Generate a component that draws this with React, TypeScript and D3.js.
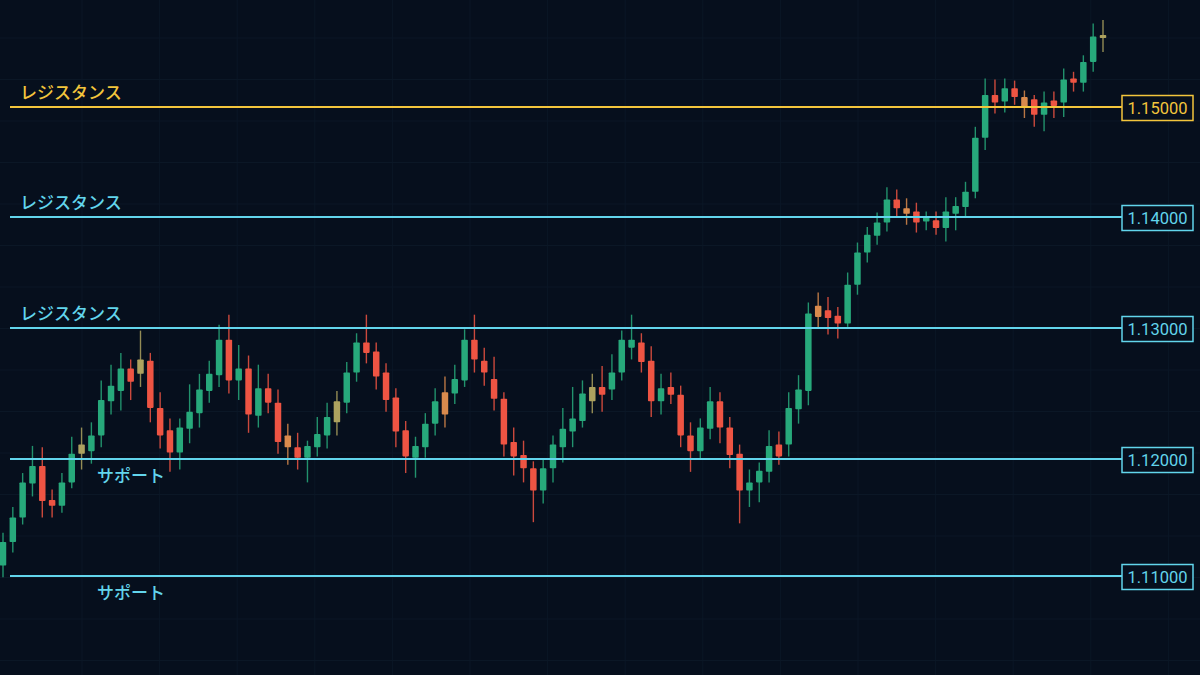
import React from "react";
import * as d3 from "d3";

// OHLC, one entry per candle (left to right)
const opens = [
  1.1109, 1.1129, 1.1150, 1.1179, 1.1194, 1.1165, 1.1160, 1.1180, 1.1204, 1.1206,
  1.1218, 1.1244, 1.1252, 1.1269, 1.1265, 1.1275, 1.1239, 1.1222, 1.1205, 1.1223,
  1.1235, 1.1252, 1.1264, 1.1291, 1.1260, 1.1269, 1.1233, 1.1254, 1.1243, 1.1218,
  1.1209, 1.1201, 1.1209, 1.1218, 1.1228, 1.1243, 1.1266, 1.1289, 1.1282, 1.1266,
  1.1247, 1.1222, 1.1201, 1.1209, 1.1227, 1.1251, 1.1250, 1.1260, 1.1291, 1.1275,
  1.1261, 1.1246, 1.1213, 1.1203, 1.1192, 1.1173, 1.1192, 1.1209, 1.1221, 1.1229,
  1.1244, 1.1255, 1.1253, 1.1266, 1.1285, 1.1289, 1.1275, 1.1244, 1.1255, 1.1249,
  1.1218, 1.1206, 1.1223, 1.1244, 1.1224, 1.1204, 1.1173, 1.1180, 1.1189, 1.1211,
  1.1211, 1.1238, 1.1252, 1.1320, 1.1316, 1.1311, 1.1304, 1.1339, 1.1368, 1.1383,
  1.1395, 1.1416, 1.1408, 1.1405, 1.1396, 1.1397, 1.1390, 1.1403, 1.1409, 1.1423,
  1.1472, 1.1511, 1.1505, 1.1517, 1.1509, 1.1507, 1.1493, 1.1506, 1.1504, 1.1526,
  1.1522, 1.1541, 1.1563,
];
const highs = [
  1.1137, 1.1159, 1.1188, 1.1210, 1.1209, 1.1174, 1.1188, 1.1217, 1.1224, 1.1228,
  1.1260, 1.1272, 1.1281, 1.1276, 1.1298, 1.1281, 1.1251, 1.1231, 1.1231, 1.1257,
  1.1265, 1.1275, 1.1303, 1.1312, 1.1287, 1.1279, 1.1272, 1.1265, 1.1253, 1.1227,
  1.1220, 1.1214, 1.1232, 1.1243, 1.1252, 1.1274, 1.1296, 1.1312, 1.1289, 1.1273,
  1.1254, 1.1229, 1.1217, 1.1235, 1.1254, 1.1263, 1.1272, 1.1299, 1.1312, 1.1285,
  1.1278, 1.1251, 1.1224, 1.1214, 1.1198, 1.1200, 1.1218, 1.1239, 1.1255, 1.1260,
  1.1265, 1.1271, 1.1280, 1.1298, 1.1312, 1.1296, 1.1286, 1.1265, 1.1266, 1.1256,
  1.1228, 1.1231, 1.1255, 1.1251, 1.1232, 1.1211, 1.1191, 1.1197, 1.1222, 1.1221,
  1.1251, 1.1264, 1.1323, 1.1332, 1.1328, 1.1319, 1.1350, 1.1377, 1.1391, 1.1404,
  1.1427, 1.1425, 1.1417, 1.1413, 1.1405, 1.1405, 1.1418, 1.1418, 1.1432, 1.1482,
  1.1526, 1.1525, 1.1526, 1.1524, 1.1515, 1.1511, 1.1514, 1.1514, 1.1535, 1.1532,
  1.1547, 1.1576, 1.1579,
];
const lows = [
  1.1099, 1.1120, 1.1144, 1.1168, 1.1150, 1.1150, 1.1154, 1.1175, 1.1191, 1.1196,
  1.1209, 1.1234, 1.1237, 1.1245, 1.1255, 1.1228, 1.1208, 1.1189, 1.1191, 1.1212,
  1.1224, 1.1243, 1.1255, 1.1250, 1.1245, 1.1220, 1.1224, 1.1235, 1.1204, 1.1195,
  1.1191, 1.1180, 1.1202, 1.1208, 1.1218, 1.1235, 1.1259, 1.1273, 1.1253, 1.1236,
  1.1209, 1.1188, 1.1184, 1.1201, 1.1218, 1.1224, 1.1242, 1.1255, 1.1266, 1.1256,
  1.1237, 1.1202, 1.1186, 1.1180, 1.1146, 1.1162, 1.1180, 1.1197, 1.1209, 1.1224,
  1.1235, 1.1236, 1.1245, 1.1260, 1.1276, 1.1266, 1.1232, 1.1234, 1.1242, 1.1209,
  1.1189, 1.1200, 1.1215, 1.1212, 1.1192, 1.1145, 1.1159, 1.1163, 1.1180, 1.1195,
  1.1202, 1.1227, 1.1241, 1.1301, 1.1295, 1.1292, 1.1301, 1.1330, 1.1359, 1.1375,
  1.1387, 1.1400, 1.1393, 1.1386, 1.1388, 1.1384, 1.1378, 1.1388, 1.1400, 1.1417,
  1.1461, 1.1494, 1.1495, 1.1502, 1.1490, 1.1482, 1.1478, 1.1490, 1.1491, 1.1514,
  1.1514, 1.1532, 1.1550,
];
const closes = [
  1.1129, 1.1150, 1.1180, 1.1194, 1.1164, 1.1160, 1.1180, 1.1204, 1.1211, 1.1218,
  1.1245, 1.1256, 1.1269, 1.1259, 1.1276, 1.1239, 1.1218, 1.1205, 1.1224, 1.1236,
  1.1253, 1.1265, 1.1291, 1.1260, 1.1269, 1.1234, 1.1254, 1.1243, 1.1213, 1.1209,
  1.1201, 1.1210, 1.1219, 1.1232, 1.1244, 1.1266, 1.1289, 1.1281, 1.1263, 1.1245,
  1.1221, 1.1202, 1.1210, 1.1227, 1.1244, 1.1234, 1.1261, 1.1291, 1.1276, 1.1266,
  1.1246, 1.1211, 1.1202, 1.1192, 1.1173, 1.1192, 1.1211, 1.1223, 1.1231, 1.1250,
  1.1255, 1.1249, 1.1266, 1.1291, 1.1291, 1.1274, 1.1244, 1.1254, 1.1249, 1.1218,
  1.1206, 1.1224, 1.1244, 1.1224, 1.1203, 1.1173, 1.1180, 1.1190, 1.1210, 1.1202,
  1.1239, 1.1253, 1.1313, 1.1310, 1.1309, 1.1304, 1.1339, 1.1368, 1.1384, 1.1395,
  1.1416, 1.1408, 1.1403, 1.1395, 1.1400, 1.1390, 1.1405, 1.1410, 1.1423, 1.1472,
  1.1511, 1.1504, 1.1517, 1.1509, 1.1499, 1.1493, 1.1504, 1.1501, 1.1525, 1.1522,
  1.1541, 1.1564, 1.1565,
];
// candles drawn in a faded tone in the picture
const mutedCandles = [8, 14, 29, 34, 45, 60, 83, 92, 104, 112];

const levelPrices = [1.15, 1.14, 1.13, 1.12, 1.11];
const levelNames = ["レジスタンス", "レジスタンス", "レジスタンス", "サポート", "サポート"];
const levelTags = ["1.15000", "1.14000", "1.13000", "1.12000", "1.11000"];
const keyLevel = 1.15;

const W = 1200;
const H = 675;
const BG = "#060f1d";
const GRID = "#0b1726";
const UP = "#27a97b";
const DOWN = "#ee5443";
const UP_MUTED = "#ada25f";
const DOWN_MUTED = "#d98a4d";
const CYAN = "#62d5ec";
const GOLD = "#f3c53c";

export default function App() {
  const idx = d3.range(closes.length);
  const x = d3.scalePoint<number>().domain(idx).range([3, 1103]);
  // the price axis in the picture is not evenly spaced, so map each level
  const y = d3.scaleLinear()
    .domain([1.10, 1.11, 1.12, 1.13, 1.14, 1.15, 1.16])
    .range([693, 576, 459, 328, 217, 107, -3]);
  const bodyW = x.step() * 0.66;

  const lineStart = 10;
  const tagX = 1122;
  const tagW = 71;
  const tagH = 25;

  const vGrid = d3.range(82, W, 77.6);
  const hGrid = d3.range(38, H, 41.5);

  const candleColor = (i: number) => {
    const up = closes[i] >= opens[i];
    const muted = mutedCandles.includes(i);
    if (up) return muted ? UP_MUTED : UP;
    return muted ? DOWN_MUTED : DOWN;
  };

  return (
    <>
      <style>{"body{margin:0;background:" + BG + "}"}</style>
      <svg width={W} height={H} style={{ display: "block", background: BG }}>
        <g>
          {vGrid.map((gx) => (
            <line key={"v" + gx} x1={gx} x2={gx} y1={0} y2={H} stroke={GRID} strokeWidth={1} />
          ))}
          {hGrid.map((gy) => (
            <line key={"h" + gy} x1={0} x2={W} y1={gy} y2={gy} stroke={GRID} strokeWidth={1} />
          ))}
        </g>

        <g>
          {idx.map((i) => {
            const cx = x(i)!;
            const col = candleColor(i);
            const top = y(Math.max(opens[i], closes[i]));
            const bot = y(Math.min(opens[i], closes[i]));
            const h = Math.max(bot - top, 3);
            return (
              <g key={i}>
                <line x1={cx} x2={cx} y1={y(highs[i])} y2={y(lows[i])} stroke={col} strokeWidth={1.4} opacity={0.85} />
                <rect x={cx - bodyW / 2} y={(top + bot) / 2 - h / 2} width={bodyW} height={h} fill={col} rx={0.8} />
              </g>
            );
          })}
        </g>

        <g>
          {levelPrices.map((p, k) => {
            const ly = y(p);
            const col = p === keyLevel ? GOLD : CYAN;
            const isSupport = levelNames[k] === "サポート";
            return (
              <g key={p}>
                <line x1={lineStart} x2={tagX} y1={ly} y2={ly} stroke={col} strokeWidth={2} />
                <rect x={tagX} y={ly - tagH / 2 + 1} width={tagW} height={tagH} fill={BG} stroke={col} strokeWidth={1.5} />
                <text
                  x={tagX + tagW / 2}
                  y={ly + 1}
                  textAnchor="middle"
                  dominantBaseline="central"
                  fill={col}
                  fontFamily="Roboto, 'Noto Sans', sans-serif"
                  fontSize={16.5}
                >
                  {levelTags[k]}
                </text>
                <text
                  x={isSupport ? 97 : 20}
                  y={isSupport ? ly + 23 : ly - 8}
                  fill={col}
                  fontFamily="'Noto Sans CJK JP', 'Noto Sans', sans-serif"
                  fontSize={17}
                  fontWeight={500}
                >
                  {levelNames[k]}
                </text>
              </g>
            );
          })}
        </g>
      </svg>
    </>
  );
}
